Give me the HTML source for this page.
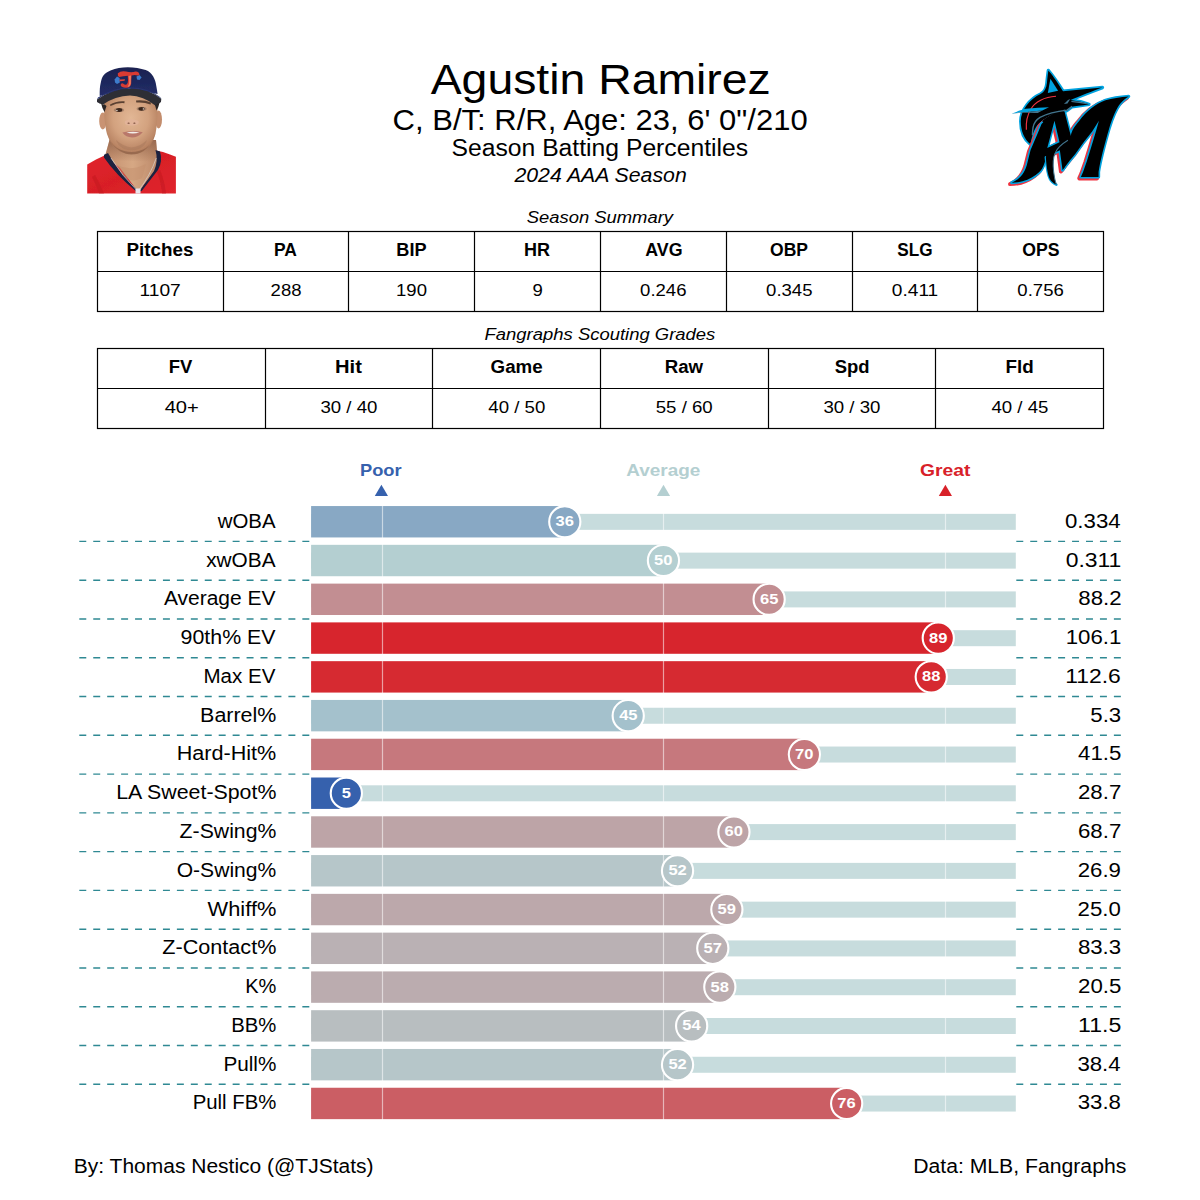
<!DOCTYPE html>
<html><head><meta charset="utf-8"><title>Agustin Ramirez - Season Batting Percentiles</title>
<style>
html,body{margin:0;padding:0;background:#fff;}
body{width:1200px;height:1200px;overflow:hidden;}
svg{display:block;font-family:"Liberation Sans",sans-serif;}
</style></head><body>
<svg width="1200" height="1200" viewBox="0 0 1200 1200">
<rect width="1200" height="1200" fill="#fff"/>
<g id="headshot">
<defs>
<radialGradient id="skinG" cx="0.5" cy="0.42" r="0.6">
<stop offset="0" stop-color="#e2b795"/><stop offset="0.55" stop-color="#d3a27f"/><stop offset="1" stop-color="#b07a5a"/>
</radialGradient>
<linearGradient id="neckG" x1="0" y1="0" x2="1" y2="0">
<stop offset="0" stop-color="#c48f6e"/><stop offset="0.5" stop-color="#d6a884"/><stop offset="1" stop-color="#b98566"/>
</linearGradient>
<linearGradient id="neckS" x1="0" y1="0" x2="0" y2="1">
<stop offset="0" stop-color="#8a5c44" stop-opacity="0.7"/><stop offset="1" stop-color="#8a5c44" stop-opacity="0"/>
</linearGradient>
<linearGradient id="capG" x1="0" y1="0" x2="0" y2="1">
<stop offset="0" stop-color="#1a2250"/><stop offset="1" stop-color="#222d68"/>
</linearGradient>
<linearGradient id="jerG" x1="0" y1="0" x2="1" y2="1">
<stop offset="0" stop-color="#e2262e"/><stop offset="0.5" stop-color="#d81f27"/><stop offset="1" stop-color="#e0252d"/>
</linearGradient>
<filter id="soft" x="-5%" y="-5%" width="110%" height="110%"><feGaussianBlur stdDeviation="0.45"/></filter>
<filter id="soft2" x="-20%" y="-20%" width="140%" height="140%"><feGaussianBlur stdDeviation="0.9"/></filter>
</defs>
<g filter="url(#soft)">
<!-- jersey -->
<path d="M87.2 164.5 L96 159.5 L104.5 155.5 L120 165 L137.5 191 L141 191 L156 150.5 L163 152 L170 154.5 L175.9 156.8 L175.9 193.6 L87.2 193.6 Z" fill="url(#jerG)"/>
<path d="M95 175 Q100 184 104 193.6 L99 193.6 Q96 184 92 177 Z" fill="#c51a22" opacity="0.6"/>
<path d="M160 170 Q165 182 166 193.6 L162 193.6 Q161 182 157 172 Z" fill="#c51a22" opacity="0.6"/>
<!-- neck -->
<path d="M109.5 140 L156 140 L157 151 L160.5 160 L153.5 172.5 L139.5 190.8 L137.5 190.8 L120 168 L105 156 Z" fill="url(#neckG)"/>
<path d="M109.5 140 L156 140 L157 151 L156 162 L108 160 L105 156 Z" fill="url(#neckS)"/>
<path d="M117 165 Q130 172 146 164 L142 178 Q131 184 122 175 Z" fill="#c48f6d" opacity="0.5"/>
<!-- collar -->
<path d="M104 154.8 L108 153 Q118 172 138.2 190.8 L136.3 191.5 Q116 175 104 157.5 Z" fill="#1e2340"/>
<path d="M155.5 150 L160 151.5 Q163 161 158 170 L141.5 191.2 L139.6 190.8 L154 171 Q158.5 161 155.5 150 Z" fill="#1e2340"/>
<!-- chain -->
<path d="M111 158 Q122 176 137 190.5" fill="none" stroke="#d9d4cf" stroke-width="0.7"/>
<path d="M156.3 158 Q150 176 138.5 190.5" fill="none" stroke="#d9d4cf" stroke-width="0.7"/>
<path d="M135.5 188.5 L140.5 188.5 L140.5 193.6 L135.5 193.6 Z" fill="#e8e6ee"/>
<!-- ears -->
<ellipse cx="102.8" cy="121" rx="3.6" ry="8.5" fill="#c99373"/>
<ellipse cx="158.6" cy="119.5" rx="3.4" ry="9" fill="#c38d6d"/>
<!-- face -->
<path d="M104 96 Q103.5 122 107 134 Q111 147 121 152 Q131.5 156 142 152 Q152 147 155.5 134 Q158 122 157.5 96 Q145 92 130 92 Q115 92 104 96 Z" fill="url(#skinG)"/>
<!-- jaw shadow / beard -->
<path d="M107.5 134 Q111 146 120 151 Q126 154.5 131.5 154.5 Q138 154.5 143.5 151 Q151 146 155 134 Q153 143 146 148 Q139 152 131.5 152 Q124 152 117 148 Q110 143 107.5 134 Z" fill="#8f634a" opacity="0.75"/>
<path d="M116 140 Q124 147 131.5 147.5 Q140 147 147 140 Q146 145 139 149 Q131.5 151.5 124 149 Q117 145 116 140 Z" fill="#a8785b" opacity="0.5"/>
<!-- eyebrows -->
<path d="M109.8 104.8 Q116 100.6 124.6 101.3 L124.4 103.2 Q117 102.6 110.6 106 Z" fill="#5a4132"/>
<path d="M136 100.6 Q144 99.6 151 102.6 L150.6 104.4 Q144 102 136.3 102.6 Z" fill="#5a4132"/>
<!-- eyes -->
<ellipse cx="118.9" cy="110" rx="5.2" ry="2.1" fill="#8a6a58" opacity="0.55"/><ellipse cx="119.1" cy="110" rx="3.2" ry="1.9" fill="#3b271d"/>
<ellipse cx="141.6" cy="108.8" rx="5" ry="2.1" fill="#8a6a58" opacity="0.55"/><ellipse cx="141.5" cy="108.8" rx="3.1" ry="1.9" fill="#3b271d"/>
<circle cx="116.9" cy="110.4" r="0.7" fill="#f0e8e2"/>
<circle cx="143.4" cy="108.9" r="0.7" fill="#f0e8e2"/>
<!-- nose -->
<path d="M125 121 Q131.5 117.5 138.5 121 Q139.5 124.5 136 125 Q131.5 126 127 125 Q124 124.5 125 121 Z" fill="#e2b49a" opacity="0.9"/>
<ellipse cx="128.6" cy="123.2" rx="1.1" ry="0.6" fill="#7a4e3b"/>
<ellipse cx="134.4" cy="123.2" rx="1.1" ry="0.6" fill="#7a4e3b"/>
<!-- mouth -->
<path d="M122.3 132.5 Q132 129.5 142.8 132.2 Q138 137.5 132 137.5 Q126 137.3 122.3 132.5 Z" fill="#b9786b"/>
<path d="M126.5 132.6 Q132.5 131.2 139.5 132.5 Q133 134.5 126.5 132.6 Z" fill="#f4efea"/>
<!-- cap crown -->
<path d="M99.7 96 C99.6 90 99.9 86.5 100.6 83.6 C101.3 80 102 77.5 103.4 75.6 C105.5 72.8 107.8 71.5 110.5 70.4 C116 68.2 121.5 67.2 127.8 67.2 C134.5 67.2 140.5 68.3 145.7 70 C149 71.3 151.3 73.3 153.1 76.2 C155 79.5 155.8 82.5 156.2 85.5 C156.7 88.5 157.2 91 157.6 94 L129 88.5 Z" fill="url(#capG)"/>
<!-- brim -->
<path d="M97 99.5 Q112 89 130 88.6 Q150 89.2 161.3 98.8 L161 102 Q158 104 156 106 Q143 95.5 130 95.5 Q115 96 103 104.5 Q99 103.5 97 102 Z" fill="#2e2f36"/>
<path d="M97 99.5 Q112 89 130 88.6 Q150 89.2 161.3 98.8 L160 97 Q148 87.5 130 87.2 Q113 87.5 98 97.5 Z" fill="#2a3470"/>
<!-- shadow under brim at sides -->
<path d="M101 103 Q102 108 104.5 112 L106.5 106 Q104 103.5 103 104.5 Z" fill="#2a2526"/>
<path d="M159.5 102.5 Q158.8 107 156.5 110.5 L155 105 Q157 103.5 159.5 102.5 Z" fill="#2a2526"/>
</g>
<!-- cap logo -->
<g filter="url(#soft)">
<path d="M114.6 79.5 L117 76.5 L119.6 78 L119.8 82.5 L117 84 L115 82.5 Z" fill="#3d7ccc"/>
<path d="M136.5 76.5 L139.5 75 L141.6 77.5 L139.5 80 L137 79.5 Z" fill="#3d7ccc"/>
<path d="M117.8 73.2 Q121 70.6 126 71.6 Q131.5 72.8 135.5 71.6 Q138.8 71.3 139.5 74.6 Q138.5 76.2 136.5 75.2 Q134 74.6 131.6 75.6 Q131.2 80.5 131.2 83.5 Q130.5 87.8 126 87.8 Q121.3 87.6 120.6 85 Q120.8 83 123 83.4 Q124.8 85 126.5 84.6 Q128 83.6 128 80.5 L127.8 75.8 Q123 76.3 119.3 77 Q117.3 76 117.8 73.2 Z" fill="#d93a33"/>
<path d="M128.6 76 L131 75.6 Q130.8 80.5 130.8 83.5 Q130.4 86.5 127.5 87.3 Q129.5 84.5 129.2 80.5 Z" fill="#ee8a6a" opacity="0.85"/>
<path d="M119.5 79.6 L125 79.2 L124.6 80.8 L119.8 81.2 Z" fill="#e0473a"/>
</g>
</g>

<g id="logo" transform="translate(1000,60) scale(0.116667)">
<defs>
<path id="lgHead" d="M415 90 C440 120 480 170 540 268 L878 236 C800 265 680 310 605 343 L690 358 L762 380 C700 392 640 398 618 400 L575 432 L552 442 C480 455 380 490 320 560 C290 600 275 650 262 722 C208 682 178 605 178 525 C178 430 258 332 348 292 C380 275 398 245 402 200 C406 160 410 120 415 90 Z"/>
<path id="lgL" fill-rule="evenodd" d="M100 1052 C160 1025 205 985 230 900 L262 772 L318 640 L356 548 C400 505 470 465 552 440 L607 650 L630 665 L600 800 L552 922 L536 942 L513 773 L473 793 L393 833 L383 878 C370 920 355 945 335 962 C300 995 250 1025 193 1040 C160 1048 130 1051 100 1052 Z M467 520 L510 705 L405 755 Z"/>
<path id="lgR" d="M536 942 L600 860 L645 805 L720 700 L790 612 L848 520 L818 625 L782 745 L745 865 L712 960 L693 1003 L845 1003 L845 960 C860 860 895 730 935 590 C965 490 995 420 1030 375 C1050 350 1075 330 1103 312 C1030 318 960 328 905 345 C820 375 740 440 680 520 C640 570 615 600 607 650 L542 930 Z"/>
</defs>
<!-- head -->
<use href="#lgHead" fill="#00a3e0" stroke="#00a3e0" stroke-width="30" stroke-linejoin="round"/>
<use href="#lgHead" fill="#000"/>
<path d="M432 160 L410 282 L498 263 Z" fill="#00a3e0"/>
<path d="M480 311 C380 316 300 360 265 420 C235 470 222 540 226 598" fill="none" stroke="#ef3340" stroke-width="10"/>
<!-- M red shadow -->
<g transform="translate(-14,12)" fill="#ef3340" stroke="#ef3340" stroke-width="34" stroke-linejoin="round">
<use href="#lgL"/><use href="#lgR"/>
</g>
<g fill="#00a3e0" stroke="#00a3e0" stroke-width="27" stroke-linejoin="round">
<use href="#lgL"/><use href="#lgR"/>
</g>
<use href="#lgL" fill="#000"/>
<use href="#lgR" fill="#000"/>
<!-- sliver -->
<path d="M393 833 C400 930 410 985 428 1020 C438 1040 455 1055 483 1068" fill="none" stroke="#00a3e0" stroke-width="22" stroke-linecap="round"/>
<path d="M480 775 L473 793 C455 830 452 900 460 960 C466 1010 475 1045 483 1068 C455 1055 438 1040 428 1020 C410 985 400 930 393 833 L398 815 Z" fill="#000"/>
<path d="M582 688 C530 720 490 755 474 795 C457 830 453 900 460 960 C466 1010 475 1045 483 1068" fill="none" stroke="#41748d" stroke-width="9"/>
<!-- hide top outline of left part inside head -->
<path d="M372 536 C412 500 475 463 548 440" fill="none" stroke="#000" stroke-width="34" stroke-linecap="butt"/>
<!-- grey-blue curves -->
<path d="M618 398 L575 430 C490 440 400 462 343 492 C305 515 288 550 283 580 C280 600 278 620 278 645" fill="none" stroke="#41748d" stroke-width="12" stroke-linejoin="round"/>
<!-- pectoral blade -->
<path d="M98 460 C150 440 190 424 220 418 C300 410 360 406 420 405 L362 432 C300 440 240 444 200 446 C160 450 130 455 98 461 Z" fill="#00a3e0"/>
<path d="M200 446 C240 444 300 440 362 432 L324 455 C280 453 240 452 190 452 C150 454 120 458 98 461 C130 455 160 450 200 446 Z" fill="#41748d"/>
<!-- eye / mouth detail -->
<path d="M548 378 L583 342 L602 334 L578 372 Z" fill="#41748d"/>
<path d="M612 352 C660 352 720 362 762 380 C700 372 650 366 612 360 Z" fill="#41748d"/>
</g>

<text x="430.70" y="94.20" font-size="43.13" font-weight="normal" font-style="normal" fill="#000" textLength="340.10" lengthAdjust="spacingAndGlyphs">Agustin Ramirez</text>
<text x="392.60" y="129.75" font-size="28.75" font-weight="normal" font-style="normal" fill="#000" textLength="415.10" lengthAdjust="spacingAndGlyphs">C, B/T: R/R, Age: 23, 6&#x27; 0&quot;/210</text>
<text x="451.50" y="155.70" font-size="23.00" font-weight="normal" font-style="normal" fill="#000" textLength="296.60" lengthAdjust="spacingAndGlyphs">Season Batting Percentiles</text>
<text x="514.45" y="181.70" font-size="20.12" font-weight="normal" font-style="italic" fill="#000" textLength="172.28" lengthAdjust="spacingAndGlyphs">2024 AAA Season</text>
<text x="526.70" y="222.60" font-size="17.25" font-weight="normal" font-style="italic" fill="#000" textLength="146.35" lengthAdjust="spacingAndGlyphs">Season Summary</text>
<text x="484.55" y="340.00" font-size="17.25" font-weight="normal" font-style="italic" fill="#000" textLength="230.77" lengthAdjust="spacingAndGlyphs">Fangraphs Scouting Grades</text>
<rect x="97.5" y="231.5" width="1006.0" height="80.0" fill="none" stroke="#000" stroke-width="1.2"/>
<line x1="97.5" y1="271.5" x2="1103.5" y2="271.5" stroke="#000" stroke-width="1.2"/>
<line x1="223.50" y1="231.5" x2="223.50" y2="311.5" stroke="#000" stroke-width="1.2"/>
<line x1="348.50" y1="231.5" x2="348.50" y2="311.5" stroke="#000" stroke-width="1.2"/>
<line x1="474.50" y1="231.5" x2="474.50" y2="311.5" stroke="#000" stroke-width="1.2"/>
<line x1="600.50" y1="231.5" x2="600.50" y2="311.5" stroke="#000" stroke-width="1.2"/>
<line x1="726.50" y1="231.5" x2="726.50" y2="311.5" stroke="#000" stroke-width="1.2"/>
<line x1="852.50" y1="231.5" x2="852.50" y2="311.5" stroke="#000" stroke-width="1.2"/>
<line x1="977.50" y1="231.5" x2="977.50" y2="311.5" stroke="#000" stroke-width="1.2"/>
<text x="126.53" y="256.00" font-size="17.50" font-weight="bold" font-style="normal" fill="#000" textLength="66.94" lengthAdjust="spacingAndGlyphs">Pitches</text>
<text x="139.57" y="296.00" font-size="16.77" font-weight="normal" font-style="normal" fill="#000" textLength="41.23" lengthAdjust="spacingAndGlyphs">1107</text>
<text x="273.98" y="256.00" font-size="17.50" font-weight="bold" font-style="normal" fill="#000" textLength="22.92" lengthAdjust="spacingAndGlyphs">PA</text>
<text x="270.62" y="296.00" font-size="16.77" font-weight="normal" font-style="normal" fill="#000" textLength="30.92" lengthAdjust="spacingAndGlyphs">288</text>
<text x="396.32" y="256.00" font-size="17.50" font-weight="bold" font-style="normal" fill="#000" textLength="30.25" lengthAdjust="spacingAndGlyphs">BIP</text>
<text x="396.07" y="296.00" font-size="16.77" font-weight="normal" font-style="normal" fill="#000" textLength="30.92" lengthAdjust="spacingAndGlyphs">190</text>
<text x="524.02" y="256.00" font-size="17.50" font-weight="bold" font-style="normal" fill="#000" textLength="26.03" lengthAdjust="spacingAndGlyphs">HR</text>
<text x="532.52" y="296.00" font-size="16.77" font-weight="normal" font-style="normal" fill="#000" textLength="10.31" lengthAdjust="spacingAndGlyphs">9</text>
<text x="645.27" y="256.00" font-size="17.50" font-weight="bold" font-style="normal" fill="#000" textLength="37.27" lengthAdjust="spacingAndGlyphs">AVG</text>
<text x="640.12" y="296.00" font-size="16.77" font-weight="normal" font-style="normal" fill="#000" textLength="46.38" lengthAdjust="spacingAndGlyphs">0.246</text>
<text x="770.08" y="256.00" font-size="17.50" font-weight="bold" font-style="normal" fill="#000" textLength="37.99" lengthAdjust="spacingAndGlyphs">OBP</text>
<text x="766.08" y="296.00" font-size="16.77" font-weight="normal" font-style="normal" fill="#000" textLength="46.38" lengthAdjust="spacingAndGlyphs">0.345</text>
<text x="897.23" y="256.00" font-size="17.50" font-weight="bold" font-style="normal" fill="#000" textLength="35.29" lengthAdjust="spacingAndGlyphs">SLG</text>
<text x="891.88" y="296.00" font-size="16.77" font-weight="normal" font-style="normal" fill="#000" textLength="46.38" lengthAdjust="spacingAndGlyphs">0.411</text>
<text x="1022.17" y="256.00" font-size="17.50" font-weight="bold" font-style="normal" fill="#000" textLength="37.31" lengthAdjust="spacingAndGlyphs">OPS</text>
<text x="1017.38" y="296.00" font-size="16.77" font-weight="normal" font-style="normal" fill="#000" textLength="46.38" lengthAdjust="spacingAndGlyphs">0.756</text>
<rect x="97.5" y="348.5" width="1006.0" height="80.0" fill="none" stroke="#000" stroke-width="1.2"/>
<line x1="97.5" y1="388.5" x2="1103.5" y2="388.5" stroke="#000" stroke-width="1.2"/>
<line x1="265.50" y1="348.5" x2="265.50" y2="428.5" stroke="#000" stroke-width="1.2"/>
<line x1="432.50" y1="348.5" x2="432.50" y2="428.5" stroke="#000" stroke-width="1.2"/>
<line x1="600.50" y1="348.5" x2="600.50" y2="428.5" stroke="#000" stroke-width="1.2"/>
<line x1="768.50" y1="348.5" x2="768.50" y2="428.5" stroke="#000" stroke-width="1.2"/>
<line x1="935.50" y1="348.5" x2="935.50" y2="428.5" stroke="#000" stroke-width="1.2"/>
<text x="168.83" y="373.00" font-size="17.50" font-weight="bold" font-style="normal" fill="#000" textLength="23.60" lengthAdjust="spacingAndGlyphs">FV</text>
<text x="164.68" y="413.00" font-size="16.77" font-weight="normal" font-style="normal" fill="#000" textLength="34.19" lengthAdjust="spacingAndGlyphs">40+</text>
<text x="335.00" y="373.00" font-size="17.50" font-weight="bold" font-style="normal" fill="#000" textLength="26.85" lengthAdjust="spacingAndGlyphs">Hit</text>
<text x="320.45" y="413.00" font-size="16.77" font-weight="normal" font-style="normal" fill="#000" textLength="56.98" lengthAdjust="spacingAndGlyphs">30 / 40</text>
<text x="490.62" y="373.00" font-size="17.50" font-weight="bold" font-style="normal" fill="#000" textLength="52.10" lengthAdjust="spacingAndGlyphs">Game</text>
<text x="488.32" y="413.00" font-size="16.77" font-weight="normal" font-style="normal" fill="#000" textLength="56.98" lengthAdjust="spacingAndGlyphs">40 / 50</text>
<text x="664.68" y="373.00" font-size="17.50" font-weight="bold" font-style="normal" fill="#000" textLength="38.37" lengthAdjust="spacingAndGlyphs">Raw</text>
<text x="655.78" y="413.00" font-size="16.77" font-weight="normal" font-style="normal" fill="#000" textLength="56.98" lengthAdjust="spacingAndGlyphs">55 / 60</text>
<text x="834.65" y="373.00" font-size="17.50" font-weight="bold" font-style="normal" fill="#000" textLength="34.86" lengthAdjust="spacingAndGlyphs">Spd</text>
<text x="823.45" y="413.00" font-size="16.77" font-weight="normal" font-style="normal" fill="#000" textLength="56.98" lengthAdjust="spacingAndGlyphs">30 / 30</text>
<text x="1005.52" y="373.00" font-size="17.50" font-weight="bold" font-style="normal" fill="#000" textLength="28.22" lengthAdjust="spacingAndGlyphs">Fld</text>
<text x="991.47" y="413.00" font-size="16.77" font-weight="normal" font-style="normal" fill="#000" textLength="56.98" lengthAdjust="spacingAndGlyphs">40 / 45</text>
<text x="360.00" y="475.90" font-size="17.28" font-weight="bold" font-style="normal" fill="#3661AD" textLength="41.60" lengthAdjust="spacingAndGlyphs">Poor</text>
<text x="626.30" y="475.90" font-size="17.28" font-weight="bold" font-style="normal" fill="#B4CFD1" textLength="74.09" lengthAdjust="spacingAndGlyphs">Average</text>
<text x="920.10" y="475.90" font-size="17.28" font-weight="bold" font-style="normal" fill="#D82129" textLength="50.32" lengthAdjust="spacingAndGlyphs">Great</text>
<path d="M374.80 495.9 L381.40 484.7 L388.00 495.9 Z" fill="#3661AD"/>
<path d="M656.90 495.9 L663.50 484.7 L670.10 495.9 Z" fill="#B4CFD1"/>
<path d="M938.80 495.9 L945.40 484.7 L952.00 495.9 Z" fill="#D82129"/>
<line x1="79.3" y1="541.40" x2="310.5" y2="541.40" stroke="#2f8993" stroke-width="1.4" stroke-dasharray="6.97 6.97"/>
<line x1="1016.3" y1="541.40" x2="1121" y2="541.40" stroke="#2f8993" stroke-width="1.4" stroke-dasharray="6.97 6.97"/>
<line x1="79.3" y1="580.18" x2="310.5" y2="580.18" stroke="#2f8993" stroke-width="1.4" stroke-dasharray="6.97 6.97"/>
<line x1="1016.3" y1="580.18" x2="1121" y2="580.18" stroke="#2f8993" stroke-width="1.4" stroke-dasharray="6.97 6.97"/>
<line x1="79.3" y1="618.96" x2="310.5" y2="618.96" stroke="#2f8993" stroke-width="1.4" stroke-dasharray="6.97 6.97"/>
<line x1="1016.3" y1="618.96" x2="1121" y2="618.96" stroke="#2f8993" stroke-width="1.4" stroke-dasharray="6.97 6.97"/>
<line x1="79.3" y1="657.74" x2="310.5" y2="657.74" stroke="#2f8993" stroke-width="1.4" stroke-dasharray="6.97 6.97"/>
<line x1="1016.3" y1="657.74" x2="1121" y2="657.74" stroke="#2f8993" stroke-width="1.4" stroke-dasharray="6.97 6.97"/>
<line x1="79.3" y1="696.52" x2="310.5" y2="696.52" stroke="#2f8993" stroke-width="1.4" stroke-dasharray="6.97 6.97"/>
<line x1="1016.3" y1="696.52" x2="1121" y2="696.52" stroke="#2f8993" stroke-width="1.4" stroke-dasharray="6.97 6.97"/>
<line x1="79.3" y1="735.30" x2="310.5" y2="735.30" stroke="#2f8993" stroke-width="1.4" stroke-dasharray="6.97 6.97"/>
<line x1="1016.3" y1="735.30" x2="1121" y2="735.30" stroke="#2f8993" stroke-width="1.4" stroke-dasharray="6.97 6.97"/>
<line x1="79.3" y1="774.08" x2="310.5" y2="774.08" stroke="#2f8993" stroke-width="1.4" stroke-dasharray="6.97 6.97"/>
<line x1="1016.3" y1="774.08" x2="1121" y2="774.08" stroke="#2f8993" stroke-width="1.4" stroke-dasharray="6.97 6.97"/>
<line x1="79.3" y1="812.86" x2="310.5" y2="812.86" stroke="#2f8993" stroke-width="1.4" stroke-dasharray="6.97 6.97"/>
<line x1="1016.3" y1="812.86" x2="1121" y2="812.86" stroke="#2f8993" stroke-width="1.4" stroke-dasharray="6.97 6.97"/>
<line x1="79.3" y1="851.64" x2="310.5" y2="851.64" stroke="#2f8993" stroke-width="1.4" stroke-dasharray="6.97 6.97"/>
<line x1="1016.3" y1="851.64" x2="1121" y2="851.64" stroke="#2f8993" stroke-width="1.4" stroke-dasharray="6.97 6.97"/>
<line x1="79.3" y1="890.42" x2="310.5" y2="890.42" stroke="#2f8993" stroke-width="1.4" stroke-dasharray="6.97 6.97"/>
<line x1="1016.3" y1="890.42" x2="1121" y2="890.42" stroke="#2f8993" stroke-width="1.4" stroke-dasharray="6.97 6.97"/>
<line x1="79.3" y1="929.20" x2="310.5" y2="929.20" stroke="#2f8993" stroke-width="1.4" stroke-dasharray="6.97 6.97"/>
<line x1="1016.3" y1="929.20" x2="1121" y2="929.20" stroke="#2f8993" stroke-width="1.4" stroke-dasharray="6.97 6.97"/>
<line x1="79.3" y1="967.98" x2="310.5" y2="967.98" stroke="#2f8993" stroke-width="1.4" stroke-dasharray="6.97 6.97"/>
<line x1="1016.3" y1="967.98" x2="1121" y2="967.98" stroke="#2f8993" stroke-width="1.4" stroke-dasharray="6.97 6.97"/>
<line x1="79.3" y1="1006.76" x2="310.5" y2="1006.76" stroke="#2f8993" stroke-width="1.4" stroke-dasharray="6.97 6.97"/>
<line x1="1016.3" y1="1006.76" x2="1121" y2="1006.76" stroke="#2f8993" stroke-width="1.4" stroke-dasharray="6.97 6.97"/>
<line x1="79.3" y1="1045.54" x2="310.5" y2="1045.54" stroke="#2f8993" stroke-width="1.4" stroke-dasharray="6.97 6.97"/>
<line x1="1016.3" y1="1045.54" x2="1121" y2="1045.54" stroke="#2f8993" stroke-width="1.4" stroke-dasharray="6.97 6.97"/>
<line x1="79.3" y1="1084.32" x2="310.5" y2="1084.32" stroke="#2f8993" stroke-width="1.4" stroke-dasharray="6.97 6.97"/>
<line x1="1016.3" y1="1084.32" x2="1121" y2="1084.32" stroke="#2f8993" stroke-width="1.4" stroke-dasharray="6.97 6.97"/>
<rect x="311.1" y="513.85" width="704.70" height="16" fill="#c7dcdd"/>
<rect x="311.1" y="506.05" width="253.69" height="31.4" fill="#88a8c4"/>
<rect x="311.1" y="552.63" width="704.70" height="16" fill="#c7dcdd"/>
<rect x="311.1" y="544.83" width="352.35" height="31.4" fill="#b4cfd1"/>
<rect x="311.1" y="591.41" width="704.70" height="16" fill="#c7dcdd"/>
<rect x="311.1" y="583.61" width="458.05" height="31.4" fill="#c28e92"/>
<rect x="311.1" y="630.19" width="704.70" height="16" fill="#c7dcdd"/>
<rect x="311.1" y="622.39" width="627.18" height="31.4" fill="#d7252d"/>
<rect x="311.1" y="668.97" width="704.70" height="16" fill="#c7dcdd"/>
<rect x="311.1" y="661.17" width="620.14" height="31.4" fill="#d62a31"/>
<rect x="311.1" y="707.75" width="704.70" height="16" fill="#c7dcdd"/>
<rect x="311.1" y="699.95" width="317.12" height="31.4" fill="#a4c1cc"/>
<rect x="311.1" y="746.53" width="704.70" height="16" fill="#c7dcdd"/>
<rect x="311.1" y="738.73" width="493.29" height="31.4" fill="#c6787d"/>
<rect x="311.1" y="785.31" width="704.70" height="16" fill="#c7dcdd"/>
<rect x="311.1" y="777.51" width="35.24" height="31.4" fill="#3661ad"/>
<rect x="311.1" y="824.09" width="704.70" height="16" fill="#c7dcdd"/>
<rect x="311.1" y="816.29" width="422.82" height="31.4" fill="#bda4a7"/>
<rect x="311.1" y="862.87" width="704.70" height="16" fill="#c7dcdd"/>
<rect x="311.1" y="855.07" width="366.44" height="31.4" fill="#b6c6c9"/>
<rect x="311.1" y="901.65" width="704.70" height="16" fill="#c7dcdd"/>
<rect x="311.1" y="893.85" width="415.77" height="31.4" fill="#bca8ab"/>
<rect x="311.1" y="940.43" width="704.70" height="16" fill="#c7dcdd"/>
<rect x="311.1" y="932.63" width="401.68" height="31.4" fill="#bab1b4"/>
<rect x="311.1" y="979.21" width="704.70" height="16" fill="#c7dcdd"/>
<rect x="311.1" y="971.41" width="408.73" height="31.4" fill="#bbacaf"/>
<rect x="311.1" y="1017.99" width="704.70" height="16" fill="#c7dcdd"/>
<rect x="311.1" y="1010.19" width="380.54" height="31.4" fill="#b8bec0"/>
<rect x="311.1" y="1056.77" width="704.70" height="16" fill="#c7dcdd"/>
<rect x="311.1" y="1048.97" width="366.44" height="31.4" fill="#b6c6c9"/>
<rect x="311.1" y="1095.55" width="704.70" height="16" fill="#c7dcdd"/>
<rect x="311.1" y="1087.75" width="535.57" height="31.4" fill="#cb5e64"/>
<rect x="381.9" y="500" width="1.2" height="625" fill="#fff" fill-opacity="0.55"/>
<rect x="662.9" y="500" width="1.2" height="625" fill="#fff" fill-opacity="0.55"/>
<rect x="944.9" y="500" width="1.2" height="625" fill="#fff" fill-opacity="0.55"/>
<circle cx="564.79" cy="521.75" r="15.6" fill="#88a8c4" stroke="#fff" stroke-width="2.1"/>
<text x="555.49" y="526.25" font-size="14.26" font-weight="bold" font-style="normal" fill="#fff" textLength="18.37" lengthAdjust="spacingAndGlyphs">36</text>
<text x="217.70" y="527.75" font-size="20.12" font-weight="normal" font-style="normal" fill="#000" textLength="57.83" lengthAdjust="spacingAndGlyphs">wOBA</text>
<text x="1065.00" y="527.75" font-size="20.12" font-weight="normal" font-style="normal" fill="#000" textLength="55.65" lengthAdjust="spacingAndGlyphs">0.334</text>
<circle cx="663.45" cy="560.53" r="15.6" fill="#b4cfd1" stroke="#fff" stroke-width="2.1"/>
<text x="654.05" y="565.03" font-size="14.26" font-weight="bold" font-style="normal" fill="#fff" textLength="18.37" lengthAdjust="spacingAndGlyphs">50</text>
<text x="206.20" y="566.53" font-size="20.12" font-weight="normal" font-style="normal" fill="#000" textLength="69.34" lengthAdjust="spacingAndGlyphs">xwOBA</text>
<text x="1065.70" y="566.53" font-size="20.12" font-weight="normal" font-style="normal" fill="#000" textLength="55.65" lengthAdjust="spacingAndGlyphs">0.311</text>
<circle cx="769.15" cy="599.31" r="15.6" fill="#c28e92" stroke="#fff" stroke-width="2.1"/>
<text x="760.00" y="603.81" font-size="14.26" font-weight="bold" font-style="normal" fill="#fff" textLength="18.37" lengthAdjust="spacingAndGlyphs">65</text>
<text x="163.90" y="605.31" font-size="20.12" font-weight="normal" font-style="normal" fill="#000" textLength="111.59" lengthAdjust="spacingAndGlyphs">Average EV</text>
<text x="1078.30" y="605.31" font-size="20.12" font-weight="normal" font-style="normal" fill="#000" textLength="43.28" lengthAdjust="spacingAndGlyphs">88.2</text>
<circle cx="938.28" cy="638.09" r="15.6" fill="#d7252d" stroke="#fff" stroke-width="2.1"/>
<text x="929.13" y="642.59" font-size="14.26" font-weight="bold" font-style="normal" fill="#fff" textLength="18.37" lengthAdjust="spacingAndGlyphs">89</text>
<text x="180.60" y="644.09" font-size="20.12" font-weight="normal" font-style="normal" fill="#000" textLength="94.91" lengthAdjust="spacingAndGlyphs">90th% EV</text>
<text x="1065.70" y="644.09" font-size="20.12" font-weight="normal" font-style="normal" fill="#000" textLength="55.65" lengthAdjust="spacingAndGlyphs">106.1</text>
<circle cx="931.24" cy="676.87" r="15.6" fill="#d62a31" stroke="#fff" stroke-width="2.1"/>
<text x="922.04" y="681.37" font-size="14.26" font-weight="bold" font-style="normal" fill="#fff" textLength="18.37" lengthAdjust="spacingAndGlyphs">88</text>
<text x="203.50" y="682.87" font-size="20.12" font-weight="normal" font-style="normal" fill="#000" textLength="71.95" lengthAdjust="spacingAndGlyphs">Max EV</text>
<text x="1065.20" y="682.87" font-size="20.12" font-weight="normal" font-style="normal" fill="#000" textLength="55.65" lengthAdjust="spacingAndGlyphs">112.6</text>
<circle cx="628.22" cy="715.65" r="15.6" fill="#a4c1cc" stroke="#fff" stroke-width="2.1"/>
<text x="619.17" y="720.15" font-size="14.26" font-weight="bold" font-style="normal" fill="#fff" textLength="18.37" lengthAdjust="spacingAndGlyphs">45</text>
<text x="200.10" y="721.65" font-size="20.12" font-weight="normal" font-style="normal" fill="#000" textLength="76.30" lengthAdjust="spacingAndGlyphs">Barrel%</text>
<text x="1090.30" y="721.65" font-size="20.12" font-weight="normal" font-style="normal" fill="#000" textLength="30.91" lengthAdjust="spacingAndGlyphs">5.3</text>
<circle cx="804.39" cy="754.43" r="15.6" fill="#c6787d" stroke="#fff" stroke-width="2.1"/>
<text x="795.04" y="758.93" font-size="14.26" font-weight="bold" font-style="normal" fill="#fff" textLength="18.37" lengthAdjust="spacingAndGlyphs">70</text>
<text x="176.70" y="760.43" font-size="20.12" font-weight="normal" font-style="normal" fill="#000" textLength="99.64" lengthAdjust="spacingAndGlyphs">Hard-Hit%</text>
<text x="1078.10" y="760.43" font-size="20.12" font-weight="normal" font-style="normal" fill="#000" textLength="43.28" lengthAdjust="spacingAndGlyphs">41.5</text>
<circle cx="346.34" cy="793.21" r="15.6" fill="#3661ad" stroke="#fff" stroke-width="2.1"/>
<text x="341.69" y="797.71" font-size="14.26" font-weight="bold" font-style="normal" fill="#fff" textLength="9.18" lengthAdjust="spacingAndGlyphs">5</text>
<text x="116.20" y="799.21" font-size="20.12" font-weight="normal" font-style="normal" fill="#000" textLength="160.21" lengthAdjust="spacingAndGlyphs">LA Sweet-Spot%</text>
<text x="1078.00" y="799.21" font-size="20.12" font-weight="normal" font-style="normal" fill="#000" textLength="43.28" lengthAdjust="spacingAndGlyphs">28.7</text>
<circle cx="733.92" cy="831.99" r="15.6" fill="#bda4a7" stroke="#fff" stroke-width="2.1"/>
<text x="724.62" y="836.49" font-size="14.26" font-weight="bold" font-style="normal" fill="#fff" textLength="18.37" lengthAdjust="spacingAndGlyphs">60</text>
<text x="179.60" y="837.99" font-size="20.12" font-weight="normal" font-style="normal" fill="#000" textLength="96.76" lengthAdjust="spacingAndGlyphs">Z-Swing%</text>
<text x="1078.00" y="837.99" font-size="20.12" font-weight="normal" font-style="normal" fill="#000" textLength="43.28" lengthAdjust="spacingAndGlyphs">68.7</text>
<circle cx="677.54" cy="870.77" r="15.6" fill="#b6c6c9" stroke="#fff" stroke-width="2.1"/>
<text x="668.44" y="875.27" font-size="14.26" font-weight="bold" font-style="normal" fill="#fff" textLength="18.37" lengthAdjust="spacingAndGlyphs">52</text>
<text x="176.70" y="876.77" font-size="20.12" font-weight="normal" font-style="normal" fill="#000" textLength="99.62" lengthAdjust="spacingAndGlyphs">O-Swing%</text>
<text x="1077.70" y="876.77" font-size="20.12" font-weight="normal" font-style="normal" fill="#000" textLength="43.28" lengthAdjust="spacingAndGlyphs">26.9</text>
<circle cx="726.87" cy="909.55" r="15.6" fill="#bca8ab" stroke="#fff" stroke-width="2.1"/>
<text x="717.62" y="914.05" font-size="14.26" font-weight="bold" font-style="normal" fill="#fff" textLength="18.37" lengthAdjust="spacingAndGlyphs">59</text>
<text x="207.60" y="915.55" font-size="20.12" font-weight="normal" font-style="normal" fill="#000" textLength="68.80" lengthAdjust="spacingAndGlyphs">Whiff%</text>
<text x="1077.60" y="915.55" font-size="20.12" font-weight="normal" font-style="normal" fill="#000" textLength="43.28" lengthAdjust="spacingAndGlyphs">25.0</text>
<circle cx="712.78" cy="948.33" r="15.6" fill="#bab1b4" stroke="#fff" stroke-width="2.1"/>
<text x="703.63" y="952.83" font-size="14.26" font-weight="bold" font-style="normal" fill="#fff" textLength="18.37" lengthAdjust="spacingAndGlyphs">57</text>
<text x="162.30" y="954.33" font-size="20.12" font-weight="normal" font-style="normal" fill="#000" textLength="114.09" lengthAdjust="spacingAndGlyphs">Z-Contact%</text>
<text x="1077.90" y="954.33" font-size="20.12" font-weight="normal" font-style="normal" fill="#000" textLength="43.28" lengthAdjust="spacingAndGlyphs">83.3</text>
<circle cx="719.83" cy="987.11" r="15.6" fill="#bbacaf" stroke="#fff" stroke-width="2.1"/>
<text x="710.53" y="991.61" font-size="14.26" font-weight="bold" font-style="normal" fill="#fff" textLength="18.37" lengthAdjust="spacingAndGlyphs">58</text>
<text x="245.20" y="993.11" font-size="20.12" font-weight="normal" font-style="normal" fill="#000" textLength="31.22" lengthAdjust="spacingAndGlyphs">K%</text>
<text x="1078.10" y="993.11" font-size="20.12" font-weight="normal" font-style="normal" fill="#000" textLength="43.28" lengthAdjust="spacingAndGlyphs">20.5</text>
<circle cx="691.64" cy="1025.89" r="15.6" fill="#b8bec0" stroke="#fff" stroke-width="2.1"/>
<text x="682.24" y="1030.39" font-size="14.26" font-weight="bold" font-style="normal" fill="#fff" textLength="18.37" lengthAdjust="spacingAndGlyphs">54</text>
<text x="231.20" y="1031.89" font-size="20.12" font-weight="normal" font-style="normal" fill="#000" textLength="45.14" lengthAdjust="spacingAndGlyphs">BB%</text>
<text x="1078.10" y="1031.89" font-size="20.12" font-weight="normal" font-style="normal" fill="#000" textLength="43.28" lengthAdjust="spacingAndGlyphs">11.5</text>
<circle cx="677.54" cy="1064.67" r="15.6" fill="#b6c6c9" stroke="#fff" stroke-width="2.1"/>
<text x="668.44" y="1069.17" font-size="14.26" font-weight="bold" font-style="normal" fill="#fff" textLength="18.37" lengthAdjust="spacingAndGlyphs">52</text>
<text x="223.40" y="1070.67" font-size="20.12" font-weight="normal" font-style="normal" fill="#000" textLength="52.97" lengthAdjust="spacingAndGlyphs">Pull%</text>
<text x="1077.40" y="1070.67" font-size="20.12" font-weight="normal" font-style="normal" fill="#000" textLength="43.28" lengthAdjust="spacingAndGlyphs">38.4</text>
<circle cx="846.67" cy="1103.45" r="15.6" fill="#cb5e64" stroke="#fff" stroke-width="2.1"/>
<text x="837.37" y="1107.95" font-size="14.26" font-weight="bold" font-style="normal" fill="#fff" textLength="18.37" lengthAdjust="spacingAndGlyphs">76</text>
<text x="192.70" y="1109.45" font-size="20.12" font-weight="normal" font-style="normal" fill="#000" textLength="83.67" lengthAdjust="spacingAndGlyphs">Pull FB%</text>
<text x="1077.70" y="1109.45" font-size="20.12" font-weight="normal" font-style="normal" fill="#000" textLength="43.28" lengthAdjust="spacingAndGlyphs">33.8</text>
<text x="73.85" y="1173.00" font-size="20.12" font-weight="normal" font-style="normal" fill="#000" textLength="299.65" lengthAdjust="spacingAndGlyphs">By: Thomas Nestico (@TJStats)</text>
<text x="913.20" y="1172.60" font-size="20.12" font-weight="normal" font-style="normal" fill="#000" textLength="213.10" lengthAdjust="spacingAndGlyphs">Data: MLB, Fangraphs</text>
</svg>
</body></html>
